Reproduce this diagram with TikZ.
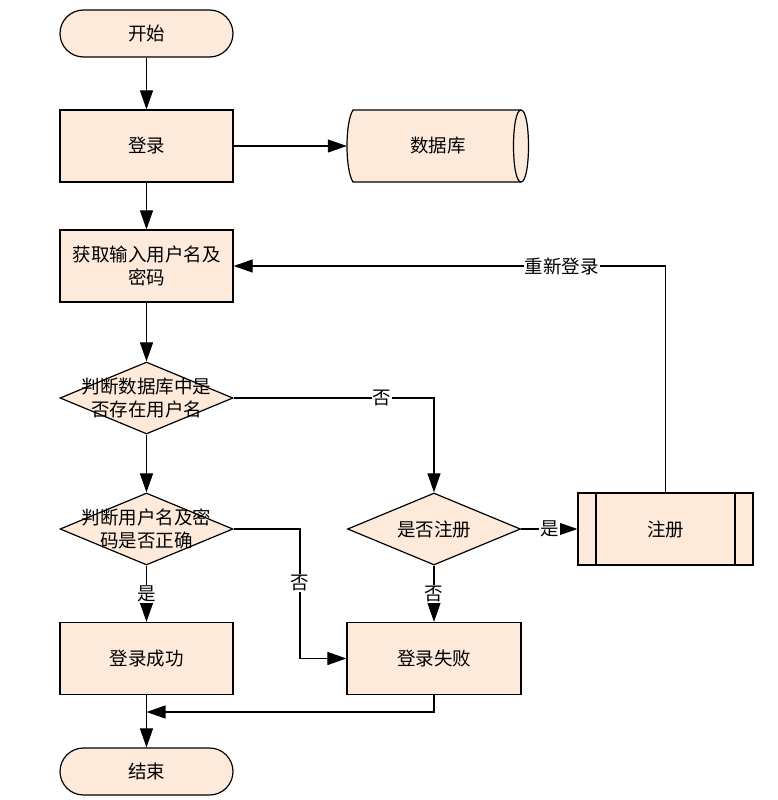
\documentclass[tikz,border=0pt]{standalone}
\usepackage{fontspec}
\setmainfont{Noto Sans CJK SC}
\usetikzlibrary{arrows.meta,shapes.geometric}
\definecolor{peach}{RGB}{253,234,218}
\begin{document}
\begin{tikzpicture}[x=1pt,y=-1pt,
  every node/.style={font=\fontsize{18.5}{23}\selectfont},
  box/.style={draw, fill=peach, line width=1.2pt, minimum width=173pt, minimum height=72pt, align=center, inner sep=2pt},
  term/.style={box, rounded corners=23.5pt, minimum height=47pt},
  dec/.style={diamond, draw, fill=peach, line width=1.2pt, minimum width=173pt, minimum height=72pt, inner sep=0pt, aspect=2.4},
  arr/.style={line width=1.1pt, -{Triangle[length=19pt,width=13pt]}},
  lab/.style={fill=white, inner sep=1pt}
]
\useasboundingbox (0,0) rectangle (778,800);
\node[term] (start) at (146.5,33.5) {开始};
\node[box] (login) at (146.5,146) {登录};
\node[draw=none, minimum width=182pt, minimum height=72pt, inner sep=0pt] (db) at (438,146) {};
\filldraw[fill=peach, line width=1.2pt] (353,110) -- (521,110) .. controls (531,110) and (531,182) .. (521,182) -- (353,182) .. controls (345,170) and (345,122) .. (353,110) -- cycle;
\draw[line width=1.2pt] (521,110) .. controls (511,110) and (511,182) .. (521,182);
\node at (db) {数据库};
\node[box] (input) at (146.5,266) {获取输入用户名及\\密码};
\node[dec, label={[align=center]center:{判断数据库中是\\否存在用户名}}] (d1) at (146.5,398) {};
\node[dec, label={[align=center]center:{判断用户名及密\\码是否正确}}] (d2) at (146.5,529) {};
\node[dec, label={center:{是否注册}}] (d3) at (434,529) {};
\node[box, minimum width=175pt] (reg) at (665.5,529) {注册};
\draw[line width=1.2pt] (596,493) -- (596,565) (735,493) -- (735,565);
\node[box] (ok) at (146.5,658.5) {登录成功};
\node[box, minimum width=174pt] (fail) at (434,658.5) {登录失败};
\node[term] (end) at (146.5,771.5) {结束};
\coordinate (m) at (146.5,712);
\coordinate (c2) at (300,529);

\draw[arr] (start) -- (login);
\draw[arr] (login) -- (db.west);
\draw[arr] (login) -- (input);
\draw[arr] (input) -- (d1);
\draw[arr] (d1) -- (d2);
\draw[arr] (d1.east) -| node[lab, pos=0.37]{否} (d3.north);
\draw[arr] (d2.east) -- (c2) |- node[lab, pos=0.21]{否} (fail.west);
\draw[arr] (d2) -- node[lab]{是} (ok);
\draw[arr] (d3) -- node[lab]{否} (fail);
\draw[arr] (d3) -- node[lab]{是} (reg);
\draw[arr] (reg.north) |- node[lab, pos=0.62]{重新登录} (input.east);
\draw[arr] (ok) -- (end);
\draw[arr] (fail.south) |- (m);
\end{tikzpicture}
\end{document}
